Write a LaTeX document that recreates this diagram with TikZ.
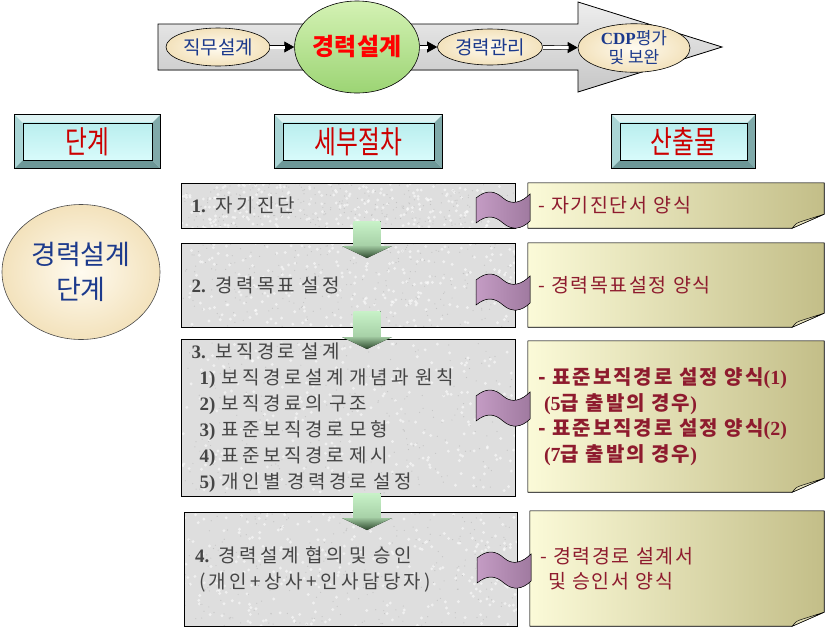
\documentclass[tikz,border=0pt]{standalone}
\usepackage{fontspec}
\setmainfont{Noto Sans CJK KR}
\newfontfamily\tnr{Liberation Serif}
\newfontfamily\krsp{Noto Sans CJK KR}[LetterSpace=18]
\newfontfamily\krnote{Noto Sans CJK KR}[LetterSpace=8]
\newfontfamily\krnoteb{Noto Sans CJK KR}[LetterSpace=10]
\usetikzlibrary{arrows.meta,backgrounds,shapes.geometric}
\definecolor{boxgray}{HTML}{DEDEDE}
\definecolor{speckdark}{HTML}{B4B4B4}
\definecolor{boxtxt}{HTML}{454545}
\definecolor{notered}{HTML}{8E1B2E}
\definecolor{notelight}{HTML}{FBFAD8}
\definecolor{notedark}{HTML}{C3BE88}
\definecolor{notefold}{HTML}{E4E0B8}
\definecolor{hdrred}{HTML}{CC0000}
\definecolor{elltxt}{HTML}{1C3A8C}
\definecolor{creamin}{HTML}{FFFBF0}
\definecolor{creamout}{HTML}{F3E2BC}
\definecolor{bevA}{HTML}{DDF3F3}
\definecolor{bevB}{HTML}{AAD5D5}
\definecolor{bevC}{HTML}{80AAAA}
\definecolor{bevD}{HTML}{6D9797}
\definecolor{btntop}{HTML}{B9EEEE}
\definecolor{btnbot}{HTML}{D8FBFB}
\definecolor{ribL}{HTML}{C49CC4}
\definecolor{ribM}{HTML}{FAE2FA}
\definecolor{ribR}{HTML}{A07AA0}
\definecolor{grnL}{HTML}{C8F2C8}
\definecolor{grnM}{HTML}{A6D0A6}
\definecolor{grnH}{HTML}{9CC49C}
\definecolor{grnD}{HTML}{2E4A2E}
\definecolor{circtop}{HTML}{D4F2B4}
\definecolor{circbot}{HTML}{9CD474}
\definecolor{arrtop}{HTML}{EEEEEE}
\definecolor{arrbot}{HTML}{C6C6C6}
\newcommand\tn[1]{{\tnr\bfseries #1}}
\newcommand\bevelbtn[1]{%
\begin{scope}[on background layer]
 \fill[bevA] (#1.north west) -- (#1.north east) -- ([xshift=-8pt,yshift=-8pt]#1.north east) -- ([xshift=8pt,yshift=-8pt]#1.north west) -- cycle;
 \fill[bevB] (#1.north west) -- ([xshift=8pt,yshift=-8pt]#1.north west) -- ([xshift=8pt,yshift=8pt]#1.south west) -- (#1.south west) -- cycle;
 \fill[bevC] (#1.north east) -- ([xshift=-8pt,yshift=-8pt]#1.north east) -- ([xshift=-8pt,yshift=8pt]#1.south east) -- (#1.south east) -- cycle;
 \fill[bevD] (#1.south west) -- ([xshift=8pt,yshift=8pt]#1.south west) -- ([xshift=-8pt,yshift=8pt]#1.south east) -- (#1.south east) -- cycle;
 \filldraw[draw=black, line width=0.6pt, top color=btntop, bottom color=btnbot] ([xshift=8pt,yshift=-8pt]#1.north west) rectangle ([xshift=-8pt,yshift=8pt]#1.south east);
 \draw[black, line width=1.2pt] (#1.north west) rectangle (#1.south east);
\end{scope}}
\newcommand\notebg[1]{%
\begin{scope}[on background layer]
 \filldraw[draw=black, line width=0.6pt, left color=notelight, right color=notedark] (#1.north west) -- (#1.north east) -- ([yshift=14pt]#1.south east) -- ([xshift=-32pt]#1.south east) -- (#1.south west) -- cycle;
 \filldraw[draw=black, line width=0.5pt, fill=notefold] ([xshift=-32pt]#1.south east) .. controls ([xshift=-28pt,yshift=5pt]#1.south east) .. ([xshift=-22pt,yshift=7pt]#1.south east) -- ([yshift=14pt]#1.south east) -- cycle;
\end{scope}}
\newcommand\grarrow[3]{%
 \fill[top color=grnL, bottom color=grnM] (#1-13.5,#2) rectangle (#1+13.5,#3-12);
 \fill[top color=grnH, bottom color=grnD] (#1-25,#3-12) -- (#1+25,#3-12) -- (#1,#3) -- cycle;}
\newcommand\ribbon[2]{%
 \begin{scope}[shift={(#1,#2)}]
 \filldraw[draw=black, line width=0.5pt, left color=ribL, middle color=ribM, right color=ribR]
  (0,8) .. controls (10,0) and (18,0) .. (27,8) .. controls (36,16) and (46,12) .. (54,4)
  -- (54,31) .. controls (46,39) and (36,41) .. (27,33) .. controls (18,25) and (10,25) .. (0,33) -- cycle;
 \end{scope}}
\begin{document}
\begin{tikzpicture}[x=1pt,y=-1pt,
 topell/.style={ellipse, draw=black, line width=0.6pt, inner color=creamin, outer color=creamout, text=elltxt, inner sep=0pt, align=center, font=\fontsize{19}{20}\selectfont},
 hdr/.style={minimum height=53pt, text=hdrred, inner sep=0pt, font=\fontsize{25}{28}\selectfont},
 procbox/.style={draw=black, line width=0.8pt, fill=boxgray, text=boxtxt, align=left, inner xsep=10pt, font=\krsp\fontsize{19}{26}\selectfont},
 speckle/.style 2 args={path picture={
   \foreach \k in {1,...,260}{\fill[white, opacity=0.55] ([shift={(rand*#1, rand*#2)}]path picture bounding box.center) circle (1.6pt);}
   \foreach \k in {1,...,260}{\fill[speckdark, opacity=0.6] ([shift={(rand*#1, rand*#2)}]path picture bounding box.center) circle (0.6pt);}}},
 note/.style={inner xsep=10pt, inner ysep=0pt, align=left, text=notered, font=\krnote\fontsize{19.5}{25}\selectfont},
 dblline/.style={double, double distance=3pt, line width=0.7pt, shorten >=9pt},
 headline/.style={line width=0.7pt, -{Triangle[length=10pt,width=11pt]}}
]
\useasboundingbox (0,0) rectangle (828,630);
\pgfmathsetseed{7}
% top process arrow
\filldraw[draw=black, line width=0.8pt, top color=arrtop, bottom color=arrbot]
 (158,24) -- (578,24) -- (578,2) -- (722,47) -- (578,92) -- (578,70) -- (158,70) -- cycle;
\node[topell, minimum width=104pt, minimum height=38pt] (t1) at (218,47) {직무설계};
\node[ellipse, draw=black, line width=0.6pt, top color=circtop, bottom color=circbot, minimum width=105pt, minimum height=92pt, inner sep=0pt, text=red, font=\bfseries\fontsize{24}{26}\selectfont] (t2) at (357,47) {경력설계};
\node[topell, minimum width=105pt, minimum height=36pt] (t3) at (490,47) {경력관리};
\node[topell, minimum width=112pt, minimum height=42pt, font=\fontsize{17}{19}\selectfont] (t4) at (634,48) {{\tnr\bfseries CDP}평가\\및 보완};
\draw[headline] (t1) -- (t2);
\draw[dblline] (t1) -- (t2);
\draw[headline] (t2) -- (t3);
\draw[dblline] (t2) -- (t3);
\draw[headline] (t3) -- (t4);
\draw[dblline] (t3) -- (t4);
% header buttons
\node[hdr, minimum width=145pt] (h1) at (87.5,141.5) {\scalebox{0.95}[1.25]{단계}};
\node[hdr, minimum width=167pt] (h2) at (358.5,141.5) {\scalebox{0.95}[1.25]{세부절차}};
\node[hdr, minimum width=143pt] (h3) at (683.5,141.5) {\scalebox{0.95}[1.25]{산출물}};
\bevelbtn{h1}\bevelbtn{h2}\bevelbtn{h3}
% stage ellipse
\node[ellipse, draw=black!70, line width=0.6pt, inner color=creamin, outer color=creamout, minimum width=158pt, minimum height=135pt, text=elltxt, align=center, font=\fontsize{27}{35}\selectfont] (e1) at (81,272) {경력설계\\단계};
% process boxes
\node[procbox, speckle={167}{23}, minimum width=334pt, minimum height=45pt, text width=314pt] (p1) at (348.5,205.5) {\tn{1.} 자기진단};
\node[procbox, speckle={167}{42}, minimum width=334pt, minimum height=84pt, text width=314pt] (p2) at (348.5,285) {\tn{2.} 경력목표 설정};
\node[procbox, speckle={167}{75}, minimum width=334pt, minimum height=150pt, text width=314pt] (p3) at (348.5,418) {\tn{3.} 보직경로 설계\\
\hspace*{8pt}\tn{1)} 보직경로설계 개념과 원칙\\
\hspace*{8pt}\tn{2)} 보직경료의 구조\\
\hspace*{8pt}\tn{3)} 표준보직경로 모형\\
\hspace*{8pt}\tn{4)} 표준보직경로 제시\\
\hspace*{8pt}\tn{5)} 개인별 경력경로 설정};
\node[procbox, speckle={167}{57}, minimum width=333pt, minimum height=114pt, text width=311pt, inner xsep=11pt] (p4) at (350.5,569) {\tn{4.} 경력설계 협의 및 승인\\
\hspace*{4pt}(개인+상사+인사담당자)};
% green arrows
\grarrow{367}{221}{258}
\grarrow{367}{311}{349}
\grarrow{367}{493}{530}
% output notes
\node[note, minimum width=296pt, minimum height=45pt, text width=276pt] (n1) at (676,205.5) {- 자기진단서 양식};
\node[note, minimum width=296pt, minimum height=84pt, text width=276pt] (n2) at (676,285) {- 경력목표설정 양식};
\node[note, minimum width=296pt, minimum height=151pt, text width=276pt, font=\krnoteb\bfseries\fontsize{20}{25.5}\selectfont] (n3) at (676,416.5) {- 표준보직경로 설정 양식\tn{(1)}\\
\hspace*{6pt}\tn{(5}급 출발의 경우\tn{)}\\
- 표준보직경로 설정 양식\tn{(2)}\\
\hspace*{6pt}\tn{(7}급 출발의 경우\tn{)}\\[6pt]};
\node[note, minimum width=294pt, minimum height=115pt, text width=274pt] (n4) at (677,568.5) {- 경력경로 설계서\\
\hspace*{8pt}및 승인서 양식\\[8pt]};
\notebg{n1}\notebg{n2}\notebg{n3}\notebg{n4}
% ribbons linking steps to outputs
\ribbon{476}{190}
\ribbon{476}{272}
\ribbon{476}{388}
\ribbon{477}{550}
\end{tikzpicture}
\end{document}
